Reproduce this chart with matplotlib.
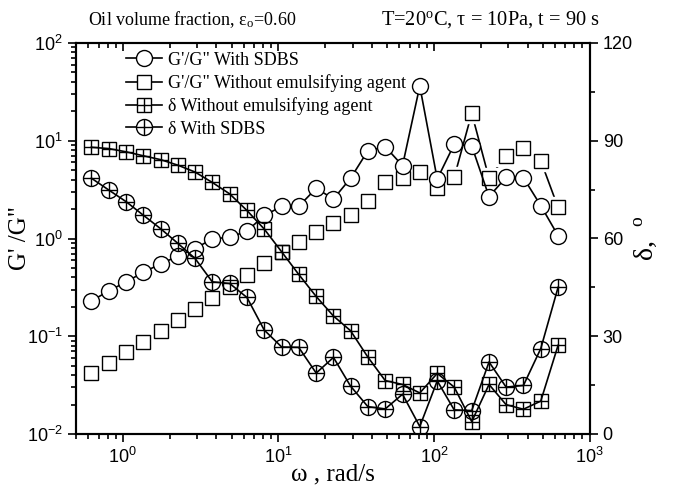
import matplotlib
matplotlib.use("Agg")
import matplotlib.pyplot as plt
from matplotlib.ticker import LogLocator, MultipleLocator, NullFormatter
from matplotlib.lines import Line2D
from matplotlib.legend_handler import HandlerTuple

plt.rcParams['font.family'] = ['Liberation Sans', 'DejaVu Sans']
plt.rcParams['mathtext.fontset'] = 'custom'
plt.rcParams['mathtext.rm'] = 'Liberation Serif'
plt.rcParams['mathtext.it'] = 'Liberation Serif:italic'

# angular frequency, rad/s
omega = [0.628, 0.811, 1.05, 1.35, 1.75, 2.26, 2.91, 3.76, 4.86, 6.28,
         8.11, 10.5, 13.5, 17.5, 22.6, 29.1, 37.6, 48.6, 62.8, 81.1,
         105, 135, 175, 226, 291, 376, 486, 628]

# G'/G" with SDBS
ratio_sdbs = [0.23, 0.29, 0.36, 0.45, 0.55, 0.66, 0.79, 0.99, 1.03, 1.19,
              1.72, 2.13, 2.13, 3.26, 2.54, 4.13, 7.9, 8.7, 5.56, 36.3,
              4.06, 9.2, 8.84, 2.68, 4.23, 4.19, 2.17, 1.07]
# G'/G" without emulsifying agent
ratio_none = [0.0416, 0.0536, 0.0687, 0.0883, 0.114, 0.147, 0.192, 0.248, 0.319, 0.423,
              0.555, 0.727, 0.921, 1.17, 1.44, 1.74, 2.43, 3.81, 4.19, 4.82,
              3.31, 4.23, 19.1, 4.13, 7.03, 8.37, 6.25, 2.08]
# delta without emulsifying agent (degrees)
delta_none = [88.0, 87.6, 86.6, 85.4, 84.2, 82.5, 80.4, 77.2, 73.7, 68.6,
              62.9, 55.9, 49.0, 42.2, 36.2, 31.7, 23.6, 16.4, 15.2, 12.6,
              18.6, 14.4, 3.8, 15.2, 9.0, 7.6, 10.1, 27.2]
# delta with SDBS (degrees)
delta_sdbs = [78.5, 74.9, 71.3, 67.2, 63.0, 58.5, 53.9, 46.7, 46.2, 41.9,
              31.9, 26.7, 26.6, 18.7, 23.5, 14.7, 8.4, 7.7, 12.2, 2.3,
              16.3, 7.4, 7.2, 22.1, 14.4, 14.9, 26.2, 45.0]

labels = ['G\'/G" With SDBS', 'G\'/G" Without emulsifying agent',
          '\u03b4 Without emulsifying agent', '\u03b4 With SDBS']

fig = plt.figure(figsize=(6.74, 4.87), dpi=100)
ax = fig.add_axes([76/674, 1-434/487, 513.5/674, 391/487])
ax2 = ax.twinx()

lw = 1.2
mew = 1.0
ms_c = 11.5
ms_s = 9.5

# open circles
l1, = ax.plot(omega, ratio_sdbs, color='black', lw=lw, marker='o', ms=ms_c,
              mfc='white', mec='black', mew=mew, zorder=3)
# open squares (line with gaps around markers)
ax.plot(omega, ratio_none, color='black', lw=lw, zorder=2)
ax.plot(omega, ratio_none, ls='none', marker='s', ms=ms_s + 5, mfc='white',
        mec='white', zorder=2.5)
ax.plot(omega, ratio_none, ls='none', marker='s', ms=ms_s, mfc='white',
        mec='black', mew=mew, zorder=2.6)
l2 = Line2D([], [], color='black', lw=lw, marker='s', ms=ms_s, mfc='white',
            mec='black', mew=mew)

# crossed squares (delta without)
ax2.plot(omega, delta_none, color='black', lw=lw, marker='s', ms=ms_s,
         mfc='none', mec='black', mew=mew, zorder=3)
ax2.plot(omega, delta_none, ls='none', marker='+', ms=ms_s, mec='black',
         mew=mew, zorder=3)
# crossed circles (delta with)
ax2.plot(omega, delta_sdbs, color='black', lw=lw, marker='o', ms=ms_c,
         mfc='none', mec='black', mew=mew, zorder=3)
ax2.plot(omega, delta_sdbs, ls='none', marker='+', ms=ms_c, mec='black',
         mew=mew, zorder=3)

l3a = Line2D([], [], color='black', lw=lw, marker='s', ms=ms_s, mfc='white', mec='black', mew=mew)
l3b = Line2D([], [], ls='none', marker='+', ms=ms_s, mec='black', mew=mew)
l4a = Line2D([], [], color='black', lw=lw, marker='o', ms=ms_c, mfc='white', mec='black', mew=mew)
l4b = Line2D([], [], ls='none', marker='+', ms=ms_c, mec='black', mew=mew)

ax.set_xscale('log')
ax.set_yscale('log')
ax.set_xlim(0.5, 1000)
ax.set_ylim(1e-2, 1e2)
ax2.set_ylim(0, 120)
ax2.yaxis.set_major_locator(MultipleLocator(30))
ax2.yaxis.set_minor_locator(MultipleLocator(15))

ax.xaxis.set_major_locator(LogLocator(base=10, numticks=10))
ax.xaxis.set_minor_locator(LogLocator(base=10, subs=range(2, 10), numticks=20))
ax.xaxis.set_minor_formatter(NullFormatter())
ax.yaxis.set_major_locator(LogLocator(base=10, numticks=10))
ax.yaxis.set_minor_locator(LogLocator(base=10, subs=range(2, 10), numticks=20))
ax.yaxis.set_minor_formatter(NullFormatter())

for a in (ax, ax2):
    for s in a.spines.values():
        s.set_linewidth(1.5)

ax.tick_params(axis='x', which='both', direction='out', top=True,
               labelsize=13, width=1.2)
ax.tick_params(axis='y', which='both', direction='out', right=False,
               labelsize=13, width=1.2)
ax.tick_params(which='major', length=6)
ax.tick_params(which='minor', length=3.5)
ax2.tick_params(axis='y', which='both', direction='out', labelsize=13, width=1.2)
ax2.tick_params(which='major', length=6)
ax2.tick_params(which='minor', length=3.5)
# top ticks inward
for t in ax.xaxis.get_major_ticks() + ax.xaxis.get_minor_ticks():
    t.tick2line.set_marker(3)

serif = 'Liberation Serif'
ax.set_xlabel('\u03c9 , rad/s', family=serif, fontsize=18, labelpad=-3)
ax.set_ylabel('G\' /G"', family=serif, fontsize=18, labelpad=-3)
ax2.set_ylabel('\u03b4,  $^{\\mathrm{o}}$', family=serif, fontsize=20, labelpad=0)

fig.text(88/674, 1-25/487, 'Oil volume fraction, \u03b5$_{\\mathrm{o}}$=0.60',
         family=serif, fontsize=13, ha='left', va='baseline')
fig.text(381/674, 1-25/487, 'T=20$^{\\mathrm{o}}$C, \u03c4 = 10Pa, t = 90 s',
         family=serif, fontsize=14.7, ha='left', va='baseline')

leg = ax2.legend([l1, l2, (l3a, l3b), (l4a, l4b)], labels,
                 handler_map={tuple: HandlerTuple(ndivide=1, pad=0)},
                 loc='upper left', bbox_to_anchor=(0.0974, 0.978), frameon=False,
                 prop={'family': serif, 'size': 13}, handlelength=2.0,
                 handletextpad=0.3, labelspacing=0.3, borderpad=0,
                 borderaxespad=0)

fig.savefig('out.png', dpi=100)
